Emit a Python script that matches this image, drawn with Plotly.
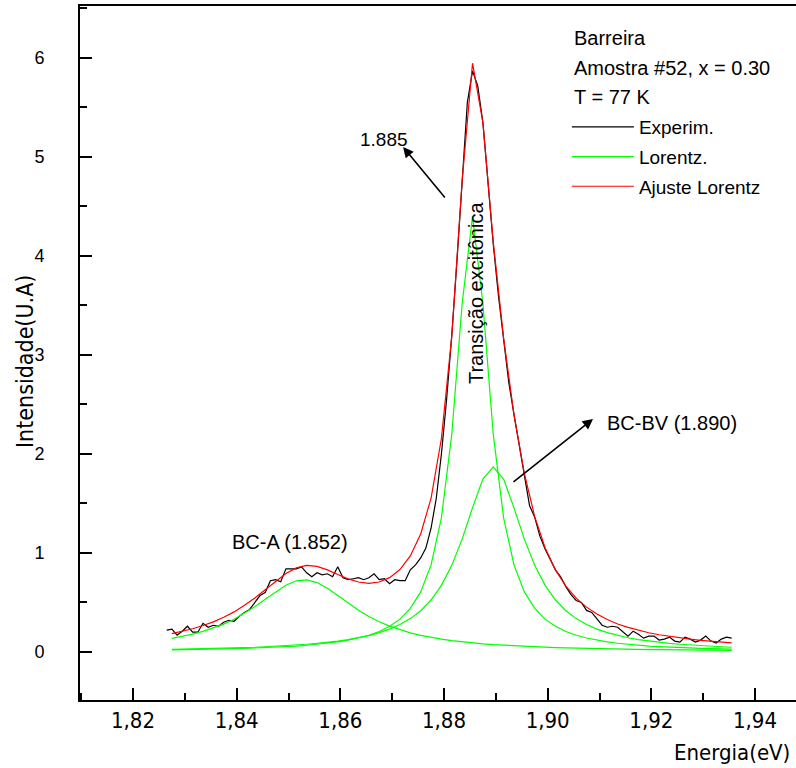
import plotly.graph_objects as go

# ---------------- data ----------------
energia_fit = [1.8275, 1.8295, 1.8315, 1.8335, 1.8355, 1.8375, 1.8395, 1.8415, 1.8435, 1.8455,
               1.8475, 1.8495, 1.8515, 1.8535, 1.8555, 1.8575, 1.8595, 1.8615, 1.8635, 1.8655,
               1.8675, 1.8695, 1.8715, 1.8735, 1.8755, 1.8775, 1.8795, 1.8815, 1.8835, 1.8855,
               1.8875, 1.8895, 1.8915, 1.8935, 1.8955, 1.8975, 1.8995, 1.9015, 1.9035, 1.9055,
               1.9075, 1.9095, 1.9115, 1.9135, 1.9155, 1.9175, 1.9195, 1.9215, 1.9235, 1.9255,
               1.9275, 1.9295, 1.9315, 1.9335, 1.9355]

lorentz_bca = [0.138, 0.157, 0.180, 0.208, 0.241, 0.282, 0.331, 0.390, 0.457, 0.532,
               0.608, 0.675, 0.719, 0.729, 0.701, 0.644, 0.571, 0.494, 0.422, 0.359,
               0.305, 0.261, 0.224, 0.193, 0.168, 0.147, 0.129, 0.115, 0.102, 0.091,
               0.082, 0.074, 0.068, 0.062, 0.056, 0.052, 0.048, 0.044, 0.041, 0.038,
               0.035, 0.033, 0.031, 0.029, 0.027, 0.026, 0.024, 0.023, 0.022, 0.020,
               0.019, 0.018, 0.017, 0.017, 0.016]

lorentz_exciton = [0.021, 0.022, 0.024, 0.026, 0.028, 0.030, 0.033, 0.036, 0.040, 0.044,
                   0.048, 0.054, 0.060, 0.068, 0.077, 0.088, 0.102, 0.119, 0.141, 0.169,
                   0.207, 0.259, 0.332, 0.440, 0.607, 0.880, 1.354, 2.200, 3.520, 4.400,
                   3.520, 2.200, 1.354, 0.880, 0.607, 0.440, 0.332, 0.259, 0.207, 0.169,
                   0.141, 0.119, 0.102, 0.088, 0.077, 0.068, 0.060, 0.054, 0.048, 0.044,
                   0.040, 0.036, 0.033, 0.030, 0.028]

lorentz_bcbv = [0.027, 0.029, 0.031, 0.033, 0.035, 0.038, 0.041, 0.045, 0.048, 0.053,
                0.058, 0.064, 0.070, 0.078, 0.087, 0.097, 0.110, 0.125, 0.144, 0.166,
                0.195, 0.231, 0.277, 0.337, 0.417, 0.525, 0.673, 0.875, 1.140, 1.456,
                1.746, 1.870, 1.746, 1.456, 1.140, 0.875, 0.673, 0.525, 0.417, 0.337,
                0.277, 0.231, 0.195, 0.166, 0.144, 0.125, 0.110, 0.097, 0.087, 0.078,
                0.070, 0.064, 0.058, 0.053, 0.048]

ajuste_lorentz = [0.186, 0.208, 0.235, 0.267, 0.304, 0.350, 0.405, 0.471, 0.545, 0.629,
                  0.714, 0.793, 0.849, 0.875, 0.865, 0.829, 0.783, 0.738, 0.707, 0.694,
                  0.707, 0.751, 0.833, 0.970, 1.192, 1.552, 2.156, 3.190, 4.762, 5.947,
                  5.348, 4.144, 3.168, 2.398, 1.803, 1.367, 1.053, 0.828, 0.665, 0.544,
                  0.453, 0.383, 0.328, 0.283, 0.248, 0.219, 0.194, 0.174, 0.157, 0.142,
                  0.129, 0.118, 0.108, 0.100, 0.092]

energia_exp = [1.8265, 1.8275, 1.8285, 1.8295, 1.8305, 1.8315, 1.8325, 1.8335, 1.8345, 1.8355,
               1.8365, 1.8375, 1.8385, 1.8395, 1.8405, 1.8415, 1.8425, 1.8435, 1.8445, 1.8455,
               1.8465, 1.8475, 1.8485, 1.8495, 1.8505, 1.8515, 1.8525, 1.8535, 1.8545, 1.8555,
               1.8565, 1.8575, 1.8585, 1.8595, 1.8605, 1.8615, 1.8625, 1.8635, 1.8645, 1.8655,
               1.8665, 1.8675, 1.8685, 1.8695, 1.8705, 1.8715, 1.8725, 1.8735, 1.8745, 1.8755,
               1.8765, 1.8775, 1.8785, 1.8795, 1.8805, 1.8815, 1.8825, 1.8835, 1.8845, 1.8855,
               1.8865, 1.8875, 1.8885, 1.8895, 1.8905, 1.8915, 1.8925, 1.8935, 1.8945, 1.8955,
               1.8965, 1.8975, 1.8985, 1.8995, 1.9005, 1.9015, 1.9025, 1.9035, 1.9045, 1.9055,
               1.9065, 1.9075, 1.9085, 1.9095, 1.9105, 1.9115, 1.9125, 1.9135, 1.9145, 1.9155,
               1.9165, 1.9175, 1.9185, 1.9195, 1.9205, 1.9215, 1.9225, 1.9235, 1.9245, 1.9255,
               1.9265, 1.9275, 1.9285, 1.9295, 1.9305, 1.9315, 1.9325, 1.9335, 1.9345, 1.9355]

experim = [0.22, 0.23, 0.17, 0.21, 0.26, 0.20, 0.20, 0.29, 0.25, 0.27,
           0.26, 0.30, 0.32, 0.31, 0.36, 0.40, 0.43, 0.50, 0.57, 0.60,
           0.72, 0.73, 0.71, 0.84, 0.84, 0.84, 0.86, 0.80, 0.76, 0.80,
           0.78, 0.79, 0.76, 0.86, 0.75, 0.73, 0.74, 0.75, 0.73, 0.75,
           0.79, 0.73, 0.74, 0.69, 0.73, 0.72, 0.72, 0.83, 0.88, 0.95,
           1.05, 1.25, 1.55, 2.00, 2.55, 3.20, 3.95, 4.75, 5.55, 5.87,
           5.72, 5.35, 4.70, 4.12, 3.60, 3.17, 2.72, 2.40, 2.10, 1.78,
           1.48, 1.36, 1.17, 1.04, 0.93, 0.83, 0.76, 0.66, 0.58, 0.52,
           0.50, 0.42, 0.40, 0.33, 0.27, 0.25, 0.26, 0.25, 0.20, 0.16,
           0.21, 0.18, 0.14, 0.16, 0.16, 0.12, 0.13, 0.15, 0.11, 0.10,
           0.15, 0.13, 0.10, 0.12, 0.16, 0.11, 0.09, 0.13, 0.15, 0.14]

x_tickvals = [1.82, 1.84, 1.86, 1.88, 1.90, 1.92, 1.94]
x_ticktext = ["1,82", "1,84", "1,86", "1,88", "1,90", "1,92", "1,94"]
y_tickvals = [0, 1, 2, 3, 4, 5, 6]
y_ticktext = ["0", "1", "2", "3", "4", "5", "6"]

header_lines = ["Barreira", "Amostra #52, x = 0.30", "T = 77 K"]

# ---------------- styling ----------------
ARIAL = "Liberation Sans, Arial, sans-serif"
NARROW = "DejaVu Sans Condensed, Liberation Sans Narrow, sans-serif"
GREEN = "#00ff00"

fig = go.Figure()
fig.add_trace(go.Scatter(x=energia_exp, y=experim, mode="lines", name="Experim.",
                         legendgroup="g1", line=dict(color="black", width=1.2)))
for k, comp in enumerate([lorentz_bca, lorentz_exciton, lorentz_bcbv]):
    fig.add_trace(go.Scatter(x=energia_fit, y=comp, mode="lines", name="Lorentz.",
                             legendgroup="g2", showlegend=(k == 0),
                             line=dict(color=GREEN, width=1.2)))
fig.add_trace(go.Scatter(x=energia_fit, y=ajuste_lorentz, mode="lines", name="Ajuste Lorentz",
                         legendgroup="g3", line=dict(color="red", width=1.2)))

fig.update_layout(
    width=796, height=768,
    margin=dict(l=80, r=0, t=6, b=68),
    paper_bgcolor="white", plot_bgcolor="white",
    showlegend=True,
    legend=dict(x=0.68, y=0.853, xanchor="left", yanchor="top",
                bgcolor="rgba(0,0,0,0)", font=dict(family=ARIAL, size=19, color="black"),
                tracegroupgap=2, itemwidth=62),
    xaxis=dict(range=[1.80977, 1.94791], showline=True, linecolor="black", linewidth=2,
               mirror=True, ticks="inside", ticklen=12, tickwidth=2, tickcolor="black",
               tickmode="array", tickvals=x_tickvals, ticktext=x_ticktext,
               tickfont=dict(family=NARROW, size=22, color="black"),
               ticklabelstandoff=0,
               showgrid=False, zeroline=False,
               minor=dict(tickmode="linear", tick0=1.81, dtick=0.01, ticks="inside",
                          ticklen=7, tickwidth=2, tickcolor="black", showgrid=False)),
    yaxis=dict(range=[-0.485, 6.525], showline=True, linecolor="black", linewidth=2,
               mirror=False, ticks="inside", ticklen=12, tickwidth=2, tickcolor="black",
               tickmode="array", tickvals=y_tickvals, ticktext=y_ticktext,
               tickfont=dict(family=ARIAL, size=18, color="black"),
               ticklabelstandoff=30,
               showgrid=False, zeroline=False,
               minor=dict(tickmode="linear", tick0=0, dtick=0.5, ticks="inside",
                          ticklen=7, tickwidth=2, tickcolor="black", showgrid=False)),
)

ann = []
# header of the legend block
for i, txt in enumerate(header_lines):
    ann.append(dict(xref="paper", yref="paper", x=0.687, y=[0.954, 0.9107, 0.8689][i],
                    xanchor="left", yanchor="middle", text=txt, showarrow=False,
                    font=dict(family=ARIAL, size=20, color="black")))
# axis titles
ann.append(dict(xref="paper", yref="paper", x=0.994, y=-0.076, xanchor="right",
                yanchor="middle", text="Energia(eV)", showarrow=False,
                font=dict(family=NARROW, size=22, color="black")))
ann.append(dict(xref="paper", yref="paper", x=-0.0768, y=0.487, xanchor="center",
                yanchor="middle", text="Intensidade(U.A)", textangle=-90, showarrow=False,
                font=dict(family=NARROW, size=23, color="black")))
# peak labels
ann.append(dict(x=1.86843, y=5.18, text="1.885", showarrow=False,
                font=dict(family=ARIAL, size=19, color="black")))
ann.append(dict(x=1.8721, y=5.101, ax=1.8804, ay=4.576, axref="x", ayref="y",
                text="", showarrow=True, arrowhead=2, arrowsize=1.3, arrowwidth=1.6,
                arrowcolor="black"))
ann.append(dict(x=1.9240, y=2.313, text="BC-BV (1.890)", showarrow=False,
                font=dict(family=ARIAL, size=20, color="black")))
ann.append(dict(x=1.90875, y=2.354, ax=1.89312, ay=1.707, axref="x", ayref="y",
                text="", showarrow=True, arrowhead=2, arrowsize=1.3, arrowwidth=1.6,
                arrowcolor="black"))
ann.append(dict(x=1.8503, y=1.111, text="BC-A (1.852)", showarrow=False,
                font=dict(family=ARIAL, size=20, color="black")))
ann.append(dict(x=1.88618, y=3.626, text="Transição excitônica", textangle=-90,
                showarrow=False, font=dict(family=ARIAL, size=20, color="black")))
fig.update_layout(annotations=ann)

fig.write_html("out.html")
